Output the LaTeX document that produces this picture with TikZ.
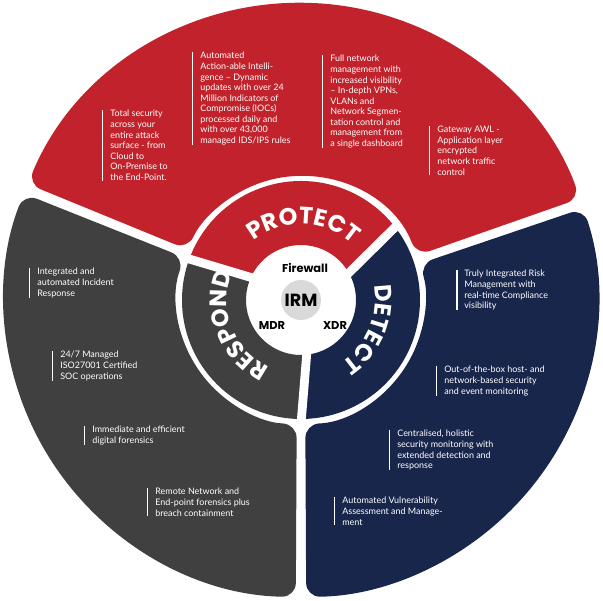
\documentclass[tikz,border=0pt]{standalone}
\usepackage{fontspec}
\setmainfont{Lato}
\newfontfamily\headfont{Poppins}
\usetikzlibrary{decorations.text}

\definecolor{irmred}{HTML}{C1222B}
\definecolor{irmblue}{HTML}{17264A}
\definecolor{irmgray}{HTML}{404040}
\definecolor{irmlight}{HTML}{D9D9D9}

\tikzset{
    info/.style={anchor=north west, align=left, text=white, inner sep=0pt,
                 font=\fontsize{5.1}{6}\selectfont},
    infobar/.style={white, line width=0.6pt},
    gapline/.style={white, line width=5},
    hub/.style={font=\headfont\bfseries\fontsize{6.5}{7}\selectfont, inner sep=0pt},
}

\begin{document}
\begin{tikzpicture}[x=0.02cm, y=0.02cm]
    \useasboundingbox (0,0) rectangle (603,-601);

    \begin{scope}[shift={(301,-300)}]
        % outer segments
        \fill[irmred, rounded corners=8] (21:124) arc (21:156:124) -- (157:297) arc (157:20:297) -- cycle;
        \fill[irmblue, rounded corners=8] (-88:124) arc (-88:17:124) -- (18:297) arc (18:-89:297) -- cycle;
        \fill[irmgray, rounded corners=8] (160:124) arc (160:268:124) -- (269:297) arc (269:159:297) -- cycle;

        % inner bands
        \fill[irmred] (160:119) arc (160:38:119) -- (28:55) arc (28:155:55) -- cycle;
        \fill[irmblue] (38:119) arc (38:-90:119) -- (-83:55) arc (-83:28:55) -- cycle;
        \fill[irmgray] (270:119) arc (270:160:119) -- (155:55) arc (155:277:55) -- cycle;
        \draw[gapline] (155:50) -- (160:124);
        \draw[gapline] (28:50) -- (38:124);
        \draw[gapline] (-83:50) -- (-90:124);

        \path[decorate, decoration={text along path, text align=center,
            text={|\headfont\bfseries\fontsize{13.5}{13.5}\selectfont\color{white}|PROTECT}}]
            (145:76) arc (145:31:76);
        \path[decorate, decoration={text along path, text align=center,
            text={|\headfont\bfseries\fontsize{13.5}{13.5}\selectfont\color{white}|DETECT}}]
            (32:74) arc (32:-78:74);
        \path[decorate, decoration={text along path, text align=center,
            text={|\headfont\bfseries\fontsize{13.5}{13.5}\selectfont\color{white}|RESPOND}}]
            (253:74) arc (253:150:74);

        % hub
        \fill[irmlight] (0,0) circle (20);
        \node[hub, font=\headfont\bfseries\fontsize{10}{10}\selectfont] (irm) at (0,0) {IRM};
    \end{scope}
    \node[hub] (firewall) at (305,-268) {Firewall};
    \node[hub] (mdr) at (272,-325) {MDR};
    \node[hub] (xdr) at (335,-325) {XDR};

    % protect texts
    \node[info] (p1) at (110,-110) {Total security\\across your\\entire attack\\surface - from\\Cloud to\\On-Premise to\\the End-Point.};
    \node[info] (p2) at (200,-52) {Automated\\Action-able Intelli-\\gence – Dynamic\\updates with over 24\\Million  Indicators of\\Compromise (IOCs)\\processed daily and\\with over 43,000\\managed IDS/IPS rules};
    \node[info] (p3) at (330,-55) {Full network\\management with\\increased visibility\\– In-depth VPNs,\\VLANs and\\Network Segmen-\\tation control and\\management from\\a single dashboard};
    \node[info] (p4) at (437,-126) {Gateway AWL -\\Application layer\\encrypted\\network traffic\\control};

    % respond texts
    \node[info] (r1) at (37,-268) {Integrated and\\automated Incident\\Response};
    \node[info] (r2) at (60,-351) {24/7 Managed\\ISO27001 Certified\\SOC operations};
    \node[info] (r3) at (92,-426) {Immediate and efficient\\digital forensics};
    \node[info] (r4) at (155,-488) {Remote Network and\\End-point forensics plus\\breach containment};

    % detect texts
    \node[info] (d1) at (464,-270) {Truly Integrated Risk\\Management with\\real-time Compliance\\visibility};
    \node[info] (d2) at (444,-366) {Out-of-the-box host- and\\network-based security\\and event monitoring};
    \node[info] (d3) at (397,-430) {Centralised, holistic\\security monitoring with\\extended detection and\\response};
    \node[info] (d4) at (342,-497) {Automated Vulnerability\\Assessment and Manage-\\ment};

    \foreach \t in {p1,p2,p3,p4,r1,r2,r3,r4,d1,d2,d3,d4}
        \draw[infobar] ([xshift=-4pt]\t.north west) -- ([xshift=-4pt]\t.south west);
\end{tikzpicture}
\end{document}
